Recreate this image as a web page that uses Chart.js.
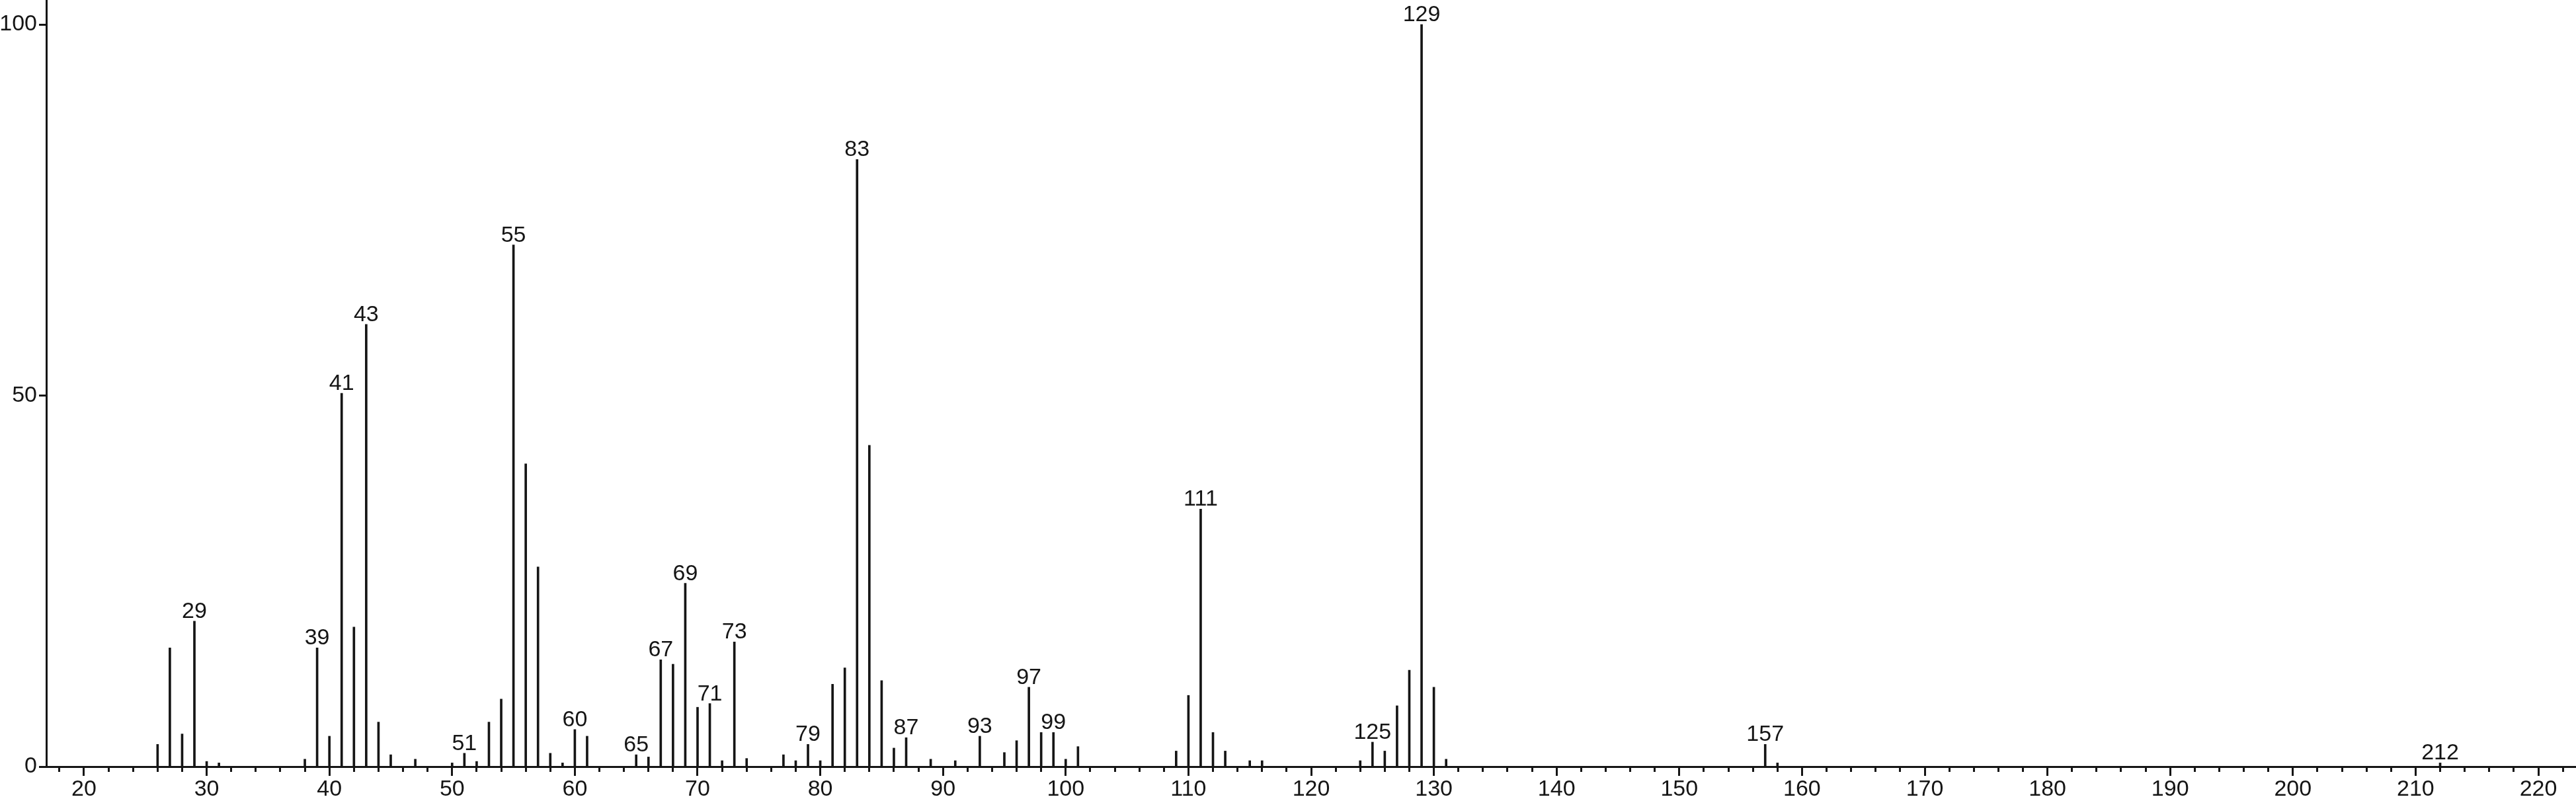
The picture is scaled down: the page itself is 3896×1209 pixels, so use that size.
<!DOCTYPE html>
<html>
<head>
<meta charset="utf-8">
<script src="https://cdn.jsdelivr.net/npm/chart.js@4.4.1/dist/chart.umd.min.js"></script>
<style>
  html, body { margin: 0; padding: 0; background: #fff; }
  #wrap { width: 3896px; height: 1209px; position: relative; }
</style>
</head>
<body>
<div id="wrap"><canvas id="spectrum"></canvas></div>
<script>
// m/z positions of the peaks
const mz = [26, 27, 28, 29, 30, 31, 38, 39, 40, 41, 42, 43, 44, 45, 47,
  50, 51, 52, 53, 54, 55, 56, 57, 58, 59, 60, 61, 65, 66, 67, 68, 69,
  70, 71, 72, 73, 74, 77, 78, 79, 80, 81, 82, 83, 84, 85, 86, 87, 89,
  91, 93, 95, 96, 97, 98, 99, 100, 101, 109, 110, 111, 112, 113, 115,
  116, 124, 125, 126, 127, 128, 129, 130, 131, 157, 158, 212];

// relative intensity, base peak = 100
const intensity = [3.0, 16.0, 4.4, 19.6, 0.7, 0.5, 1.0, 16.0, 4.1, 50.3, 18.8, 59.6, 6.0, 1.6, 1.0,
  0.5, 1.8, 0.7, 6.0, 9.1, 70.3, 40.8, 26.9, 1.8, 0.5, 5.0, 4.1, 1.6, 1.3, 14.4, 13.8, 24.7,
  8.0, 8.5, 0.8, 16.8, 1.1, 1.6, 0.8, 3.0, 0.8, 11.1, 13.3, 81.8, 43.3, 11.6, 2.5, 3.9, 1.0,
  0.8, 4.1, 1.9, 3.5, 10.7, 4.6, 4.6, 1.0, 2.7, 2.1, 9.6, 34.7, 4.6, 2.1, 0.8,
  0.8, 0.8, 3.3, 2.1, 8.2, 13.0, 100, 10.7, 1.0, 3.0, 0.5, 0.5];

// peaks that carry an m/z label
const labeledPeaks = [29, 39, 41, 43, 51, 55, 60, 65, 67, 69, 71, 73, 79, 83, 87,
  93, 97, 99, 111, 125, 129, 157, 212];

// axis tick labels
const xTickLabels = [20, 30, 40, 50, 60, 70, 80, 90, 100, 110, 120, 130, 140, 150,
  160, 170, 180, 190, 200, 210, 220];
const yTickLabels = [0, 50, 100];

const FONT = '"Liberation Sans", Arial, Helvetica, sans-serif';
const INK = '#151515';

// draw the m/z number over the labelled peaks
const peakLabels = {
  id: 'peakLabels',
  afterDatasetsDraw(chart) {
    const ctx = chart.ctx;
    const meta = chart.getDatasetMeta(0);
    ctx.save();
    ctx.font = '34px ' + FONT;
    ctx.fillStyle = INK;
    ctx.textAlign = 'center';
    ctx.textBaseline = 'alphabetic';
    meta.data.forEach((bar, i) => {
      if (labeledPeaks.includes(mz[i])) {
        ctx.fillText(String(mz[i]), bar.x, bar.y - 5);
      }
    });
    ctx.restore();
  }
};

new Chart(document.getElementById('spectrum'), {
  type: 'bar',
  data: {
    datasets: [{
      data: mz.map((m, i) => ({ x: m, y: intensity[i] })),
      backgroundColor: INK,
      borderWidth: 0,
      barThickness: 3
    }]
  },
  options: {
    responsive: true,
    maintainAspectRatio: false,
    animation: false,
    layout: { padding: 0 },
    plugins: {
      legend: { display: false },
      tooltip: { enabled: false }
    },
    scales: {
      x: {
        type: 'linear',
        min: 16.93,
        max: 223.07,
        offset: false,
        border: { color: INK, width: 3 },
        grid: {
          offset: false,
          drawOnChartArea: false,
          tickLength: 14,
          tickWidth: 3,
          tickColor: INK,
          // minor ticks (every 2) are drawn shorter
          tickBorderDash: (c) => (c.tick && c.tick.value % 10 === 0) ? [] : [6, 200]
        },
        ticks: {
          stepSize: 2,
          includeBounds: false,
          autoSkip: false,
          maxRotation: 0,
          padding: 0,
          color: INK,
          font: { size: 34, family: FONT },
          callback: (v) => xTickLabels.includes(v) ? String(v) : ''
        },
        afterFit(s) { s.height = 49; s.paddingLeft = 0; s.paddingRight = 0; }
      },
      y: {
        min: 0,
        max: 103.3,
        border: { color: INK, width: 3 },
        grid: {
          drawOnChartArea: false,
          tickLength: 11,
          tickWidth: 3,
          tickColor: INK
        },
        ticks: {
          stepSize: 50,
          includeBounds: false,
          padding: 3,
          color: INK,
          font: { size: 34, family: FONT },
          callback: (v) => yTickLabels.includes(v) ? String(v) : ''
        },
        afterFit(s) { s.width = 70; s.paddingTop = 0; s.paddingBottom = 0; }
      }
    }
  },
  plugins: [peakLabels]
});
</script>
</body>
</html>
